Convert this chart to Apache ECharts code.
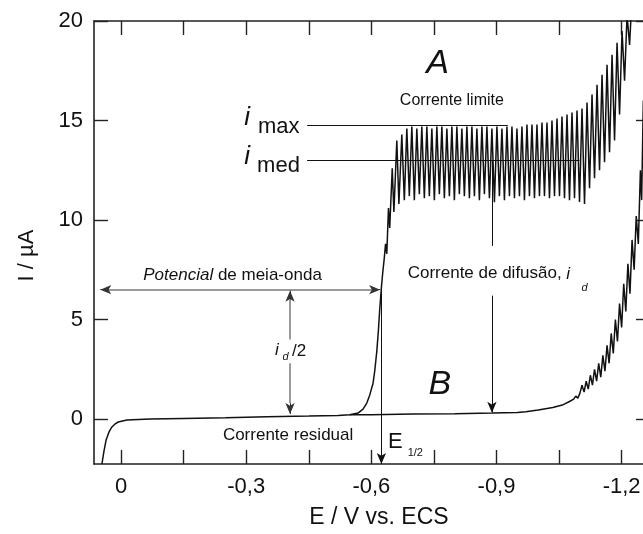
<!DOCTYPE html>
<html>
<head>
<meta charset="utf-8">
<title>Polarograma</title>
<script src="https://cdn.jsdelivr.net/npm/echarts@6/dist/echarts.min.js"></script>
<style>
html, body { margin: 0; padding: 0; background: #fff; }
#main { width: 643px; height: 534px; }
</style>
</head>
<body>
<div id="main"></div>
<script>
// [E (V vs. ECS), I (uA)]
const residual = [
  [0.046, -2.26], [0.041, -1.6], [0.036, -1.06], [0.029, -0.65], [0.022, -0.4],
  [0.014, -0.24], [0.007, -0.15], [-0.014, -0.05], [-0.07, 0.0], [-0.15, 0.03],
  [-0.25, 0.07], [-0.35, 0.12], [-0.45, 0.15], [-0.52, 0.18], [-0.548, 0.22]
];
const waveA = [
  [-0.568, 0.3], [-0.58, 0.5], [-0.589, 0.8], [-0.596, 1.2], [-0.604, 1.8],
  [-0.608, 2.4], [-0.613, 3.4], [-0.617, 4.5], [-0.62, 5.5], [-0.624, 6.6],
  [-0.627, 7.3], [-0.631, 8.1], [-0.634, 8.8], [-0.637, 8.3], [-0.641, 10.6],
  [-0.644, 9.6], [-0.65, 12.6], [-0.654, 10.4], [-0.661, 14.0], [-0.666, 10.8]
];
const plateauA = [
  [-0.673, 14.3], [-0.679, 11.0], [-0.685, 14.6], [-0.691, 11.2], [-0.697, 14.7], [-0.703, 11.0],
  [-0.709, 14.6], [-0.715, 11.3], [-0.721, 14.7], [-0.727, 11.1], [-0.733, 14.7], [-0.739, 11.2],
  [-0.745, 14.6], [-0.751, 11.0], [-0.757, 14.7], [-0.763, 11.3], [-0.769, 14.7], [-0.775, 11.1],
  [-0.781, 14.6], [-0.787, 11.2], [-0.793, 14.7], [-0.799, 11.0], [-0.805, 14.7], [-0.811, 11.3],
  [-0.817, 14.6], [-0.823, 11.2], [-0.829, 14.7], [-0.835, 11.1], [-0.841, 14.7], [-0.847, 11.2],
  [-0.853, 14.6], [-0.859, 11.0], [-0.865, 14.7], [-0.871, 11.3], [-0.877, 14.7], [-0.883, 11.1],
  [-0.889, 14.6], [-0.895, 10.9], [-0.901, 14.7], [-0.907, 11.2], [-0.913, 14.6], [-0.919, 11.0],
  [-0.925, 14.7], [-0.931, 11.2], [-0.937, 14.7], [-0.943, 11.1], [-0.949, 14.6], [-0.955, 11.2],
  [-0.961, 14.7], [-0.967, 11.0], [-0.973, 14.8], [-0.979, 11.2], [-0.985, 14.8], [-0.991, 11.1],
  [-0.997, 14.8], [-1.003, 11.2], [-1.009, 14.9], [-1.015, 11.2], [-1.021, 14.9], [-1.027, 11.1],
  [-1.033, 15.0], [-1.039, 11.2], [-1.045, 15.1], [-1.051, 11.2], [-1.057, 15.2], [-1.063, 11.1],
  [-1.069, 15.3], [-1.075, 11.0], [-1.081, 15.4], [-1.087, 11.1], [-1.093, 15.5], [-1.099, 10.9],
  [-1.105, 15.6], [-1.111, 10.8]
];
const tailA = [
  [-1.117, 15.9], [-1.123, 11.6], [-1.129, 16.3], [-1.135, 12.1], [-1.141, 16.8], [-1.147, 12.5],
  [-1.153, 17.3], [-1.159, 12.9], [-1.165, 17.8], [-1.171, 13.4], [-1.177, 18.3], [-1.183, 14.0],
  [-1.189, 18.9], [-1.195, 15.3], [-1.201, 19.5], [-1.207, 17.0], [-1.213, 20.3], [-1.219, 18.8],
  [-1.225, 21.2], [-1.231, 20.5], [-1.237, 22.5]
];
const baseB = [
  [-0.548, 0.22], [-0.6, 0.22], [-0.7, 0.25], [-0.8, 0.27], [-0.89, 0.3], [-0.95, 0.33],
  [-0.97, 0.36], [-1.0, 0.45], [-1.035, 0.58], [-1.06, 0.72], [-1.075, 0.88], [-1.085, 1.0],
  [-1.09, 1.15], [-1.095, 1.05]
];
const tailB = [
  [-1.1, 1.3], [-1.105, 1.7], [-1.11, 1.35], [-1.115, 1.9], [-1.12, 1.5], [-1.125, 2.2],
  [-1.13, 1.7], [-1.135, 2.5], [-1.14, 1.9], [-1.145, 2.8], [-1.15, 2.1], [-1.155, 3.2],
  [-1.16, 2.4], [-1.165, 3.7], [-1.17, 2.8], [-1.175, 4.3], [-1.18, 3.3], [-1.185, 5.0],
  [-1.19, 3.9], [-1.195, 5.8], [-1.2, 4.6], [-1.205, 6.8], [-1.21, 5.4], [-1.215, 7.8],
  [-1.22, 6.3], [-1.225, 9.0], [-1.23, 7.5], [-1.235, 10.2], [-1.24, 8.8], [-1.245, 12.5],
  [-1.248, 11.0], [-1.252, 16.0], [-1.256, 14.0], [-1.26, 20.0], [-1.265, 24.0]
];
const xTicks = [0, -0.15, -0.3, -0.45, -0.6, -0.75, -0.9, -1.05, -1.2];
const xLabels = [0, -0.3, -0.6, -0.9, -1.2];
const yTicks = [0, 5, 10, 15, 20];

const FONT = '"Liberation Sans", Arial, Helvetica, sans-serif';
const INK = '#222';

const curveA = residual.concat(waveA, plateauA, tailA);
const curveB = baseB.concat(tailB);

function fmtE(v) {
  return v === 0 ? '0' : v.toFixed(1).replace('.', ',');
}

function xAxisOf(pos, showLabel) {
  return {
    type: 'value', position: pos, min: -1.268, max: 0.065, inverse: true,
    axisLine: { show: true, onZero: false, lineStyle: { color: INK, width: 1.6 } },
    axisTick: { show: true, inside: true, length: 14, customValues: xTicks, lineStyle: { color: INK, width: 1.4 } },
    axisLabel: {
      show: showLabel, customValues: xLabels, formatter: fmtE, margin: 12,
      fontSize: 22, fontFamily: FONT, color: '#111'
    },
    splitLine: { show: false }
  };
}

function yAxisOf(pos, showLabel) {
  return {
    type: 'value', position: pos, min: -2.26, max: 20,
    axisLine: { show: true, onZero: false, lineStyle: { color: INK, width: 1.6 } },
    axisTick: { show: true, inside: true, length: 14, customValues: yTicks, lineStyle: { color: INK, width: 1.4 } },
    axisLabel: {
      show: showLabel, customValues: yTicks, margin: 11,
      fontSize: 22, fontFamily: FONT, color: '#111'
    },
    splitLine: { show: false }
  };
}

function seg(a, b, style, endSymbol, startSymbol) {
  return [
    { coord: a, symbol: startSymbol || 'none', symbolSize: [7, 11], lineStyle: style },
    { coord: b, symbol: endSymbol || 'none', symbolSize: [7, 11] }
  ];
}

const black = { color: '#111', width: 1, type: 'solid' };
const grey = { color: '#9a9a9a', width: 2, type: 'solid' };
const tip = { color: '#333', width: 1, type: 'solid' };

const xA = xAxisOf('bottom', true);
xA.name = 'E / V vs. ECS';
xA.nameLocation = 'middle';
xA.nameGap = 42;
xA.nameTextStyle = { fontSize: 23, fontFamily: FONT, color: '#111', padding: [0, 0, 0, 14] };

const yA = yAxisOf('left', true);
yA.name = 'I / µA';
yA.nameLocation = 'middle';
yA.nameGap = 56;
yA.nameTextStyle = { fontSize: 22, fontFamily: FONT, color: '#111', padding: [0, 26, 0, 0] };

const chart = echarts.init(document.getElementById('main'));
chart.setOption({
  animation: false,
  backgroundColor: '#fff',
  grid: { left: 94, right: -7, top: 21, bottom: 70, containLabel: false, outerBoundsMode: 'none' },
  xAxis: [xA, xAxisOf('top', false)],
  yAxis: [yA, yAxisOf('right', false)],
  series: [
    {
      name: 'A', type: 'line', data: curveA, showSymbol: false, silent: true,
      lineStyle: { color: '#111', width: 1.5 },
      markLine: {
        silent: true, animation: false, label: { show: false }, emphasis: { disabled: true },
        data: [
          seg([-0.446, 14.77], [-0.927, 14.77], black),
          seg([-0.446, 13.0], [-1.099, 13.0], black),
          seg([0.03, 6.5], [-0.601, 6.5], grey),
          seg([0.03, 6.5], [0.05, 6.5], tip, 'arrow'),
          seg([-0.601, 6.5], [-0.621, 6.5], tip, 'arrow'),
          seg([-0.405, 4.0], [-0.405, 6.0], grey),
          seg([-0.405, 6.0], [-0.405, 6.45], tip, 'arrow'),
          seg([-0.405, 2.8], [-0.405, 0.8], grey),
          seg([-0.405, 0.8], [-0.405, 0.25], tip, 'arrow'),
          seg([-0.624, 6.5], [-0.624, -2.26], black, 'arrow'),
          seg([-0.889, 13.0], [-0.889, 8.7], black),
          seg([-0.889, 6.2], [-0.889, 0.32], black, 'arrow')
        ]
      }
    },
    {
      name: 'B', type: 'line', data: curveB, showSymbol: false, silent: true,
      lineStyle: { color: '#111', width: 1.5 }
    }
  ]
});

// annotation texts, anchored in data coordinates
function txt(e, i, text, size, opts) {
  const p = chart.convertToPixel({ xAxisIndex: 0, yAxisIndex: 0 }, [e, i]);
  opts = opts || {};
  const italic = opts.italic ? 'italic ' : '';
  const style = {
    text: text, font: italic + size + 'px ' + FONT, fill: '#111',
    fontSize: size, fontFamily: FONT, fontStyle: opts.italic ? 'italic' : 'normal',
    align: opts.align || 'left', textAlign: opts.align || 'left',
    verticalAlign: 'middle', textVerticalAlign: 'middle'
  };
  if (opts.rich) style.rich = opts.rich;
  return { type: 'text', x: p[0], y: p[1], silent: true, style: style };
}

const mixed = {
  it: { fontStyle: 'italic', fontSize: 17, fontFamily: FONT, color: '#111' },
  n: { fontSize: 17, fontFamily: FONT, color: '#111' }
};

chart.setOption({
  graphic: [
    txt(-0.759, 17.84, 'A', 34, { italic: true, align: 'center' }),
    txt(-0.764, 1.71, 'B', 34, { italic: true, align: 'center' }),
    txt(-0.793, 15.98, 'Corrente limite', 16, { align: 'center' }),
    txt(-0.302, 15.13, 'i', 26, { italic: true, align: 'center' }),
    txt(-0.328, 14.67, 'max', 22),
    txt(-0.302, 13.17, 'i', 26, { italic: true, align: 'center' }),
    txt(-0.326, 12.71, 'med', 22),
    txt(-0.053, 7.24, '{it|Potencial}{n| de meia-onda}', 17, { rich: mixed }),
    txt(-0.369, 3.47, 'i', 17, { italic: true }),
    txt(-0.387, 3.12, 'd', 11, { italic: true }),
    txt(-0.41, 3.42, '/2', 17),
    txt(-0.687, 7.34, 'Corrente de difusão,', 17),
    txt(-1.067, 7.29, 'i', 17, { italic: true }),
    txt(-1.104, 6.58, 'd', 11, { italic: true }),
    txt(-0.244, -0.8, 'Corrente residual', 17),
    txt(-0.64, -1.16, 'E', 22),
    txt(-0.687, -1.71, '1/2', 11)
  ]
});
</script>
</body>
</html>
